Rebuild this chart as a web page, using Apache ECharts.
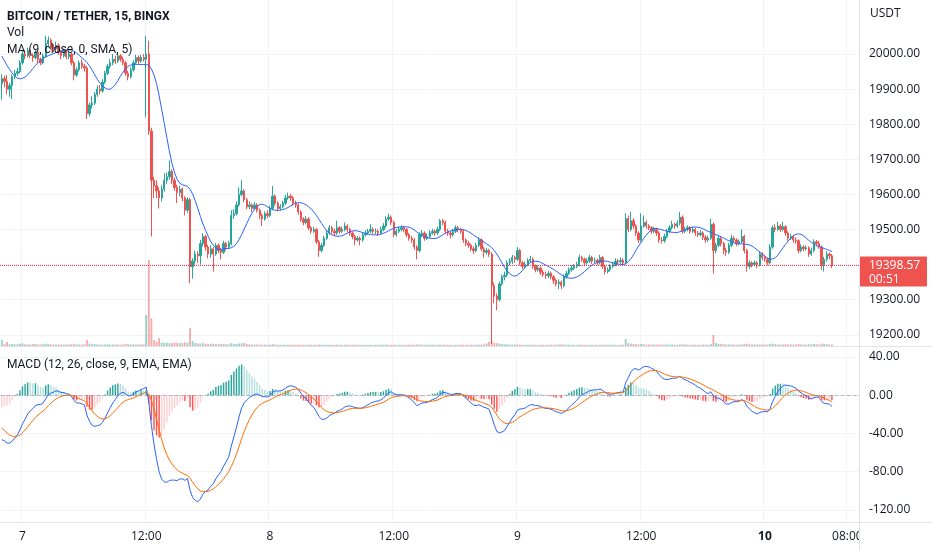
<!DOCTYPE html>
<html>
<head>
<meta charset="utf-8">
<script src="https://cdn.jsdelivr.net/npm/echarts@6/dist/echarts.min.js"></script>
<style>
html,body{margin:0;padding:0;background:#fff;}
#chart{width:932px;height:550px;}
</style>
</head>
<body>
<div id="chart"></div>
<script>
// ---- data (15-minute candles, BTC/USDT, BINGX) ----
const startTimeUTC = Date.UTC(2022, 9, 6, 22, 0);   // first slot on the time axis
const slotCount = 333;                                // slots shown on the time axis
const firstOpen = 19915;
// closes preceding the visible window (needed only to seed MA / MACD)
const warmupCloses = [20110,20116,20122,20118,20112,20120,20126,20121,20115,20110,20117,20124,20119,20113,20108,20115,20121,20117,20111,20106,
20113,20118,20111,20105,20100,20098,20095,20090,20075,20062,20050,20038,20025,20010,19995,19980,19965,19950,19932,19915];

const closes = [
19930,19922,19900,19910,19935,19945,19950,19975,20000,19995,20010,19995,19990,20005,19985,19975,19995,20030,20040,20020,
20015,20025,20005,19995,20008,19992,20000,19975,19940,19955,19975,19965,19960,19830,19855,19860,19885,19900,19895,19920,
19945,19965,19975,19985,19980,19995,19985,19975,19945,19935,19955,19975,19990,19980,19990,19985,20000,19780,19640,19625,
19610,19590,19615,19640,19650,19665,19640,19620,19605,19615,19590,19555,19585,19394,19410,19430,19425,19460,19480,19450,
19430,19445,19430,19455,19440,19435,19460,19450,19460,19540,19545,19570,19600,19610,19585,19565,19570,19560,19570,19555,
19540,19530,19545,19540,19560,19595,19575,19560,19565,19575,19590,19595,19590,19575,19570,19550,19530,19520,19530,19505,
19495,19500,19465,19440,19455,19475,19490,19505,19495,19490,19505,19495,19500,19510,19500,19490,19480,19470,19475,19470,
19485,19490,19495,19500,19495,19495,19490,19500,19510,19530,19535,19520,19485,19495,19500,19505,19500,19485,19475,19470,
19450,19440,19485,19490,19475,19480,19490,19495,19490,19500,19525,19520,19495,19490,19485,19495,19505,19500,19495,19470,
19460,19455,19445,19440,19455,19470,19445,19435,19440,19430,19340,19310,19300,19345,19365,19370,19405,19410,19420,19415,
19440,19405,19395,19400,19412,19415,19395,19385,19390,19378,19372,19368,19375,19365,19355,19345,19350,19340,19365,19375,
19385,19390,19395,19400,19420,19415,19405,19410,19420,19410,19412,19405,19420,19395,19380,19385,19395,19400,19410,19408,
19412,19405,19531,19500,19525,19510,19490,19470,19510,19520,19510,19505,19495,19500,19490,19470,19468,19480,19495,19505,
19515,19510,19518,19535,19495,19500,19505,19495,19500,19490,19485,19490,19478,19470,19475,19515,19440,19455,19475,19460,
19440,19435,19455,19475,19470,19460,19465,19480,19440,19395,19405,19400,19405,19400,19430,19420,19415,19405,19450,19505,
19500,19510,19500,19508,19490,19475,19480,19470,19468,19440,19450,19445,19448,19430,19440,19465,19460,19450,19400,19415,
19430,19425,19398.57];

const highs = [
19942,19938,19940,19918,19942,19955,19960,19982,20008,20012,20018,20015,20002,20012,20010,19990,20002,20052,20050,20045,
20028,20035,20030,20012,20015,20012,20008,20003,19980,19962,19982,19985,19972,19965,19862,19880,19892,19910,19912,19928,
19952,19972,19985,20000,19995,20003,20000,19992,19980,19952,19962,19982,19998,19996,19998,20000,20052,20038,19790,19650,
19640,19620,19625,19660,19662,19697,19672,19648,19628,19625,19620,19595,19592,19590,19418,19440,19438,19470,19490,19485,
19456,19455,19450,19462,19460,19448,19468,19465,19468,19555,19558,19580,19620,19641,19615,19590,19580,19575,19578,19575,
19560,19545,19552,19555,19568,19624,19600,19580,19572,19582,19598,19605,19602,19596,19582,19574,19555,19535,19538,19535,
19510,19508,19505,19470,19462,19482,19498,19512,19510,19502,19525,19510,19508,19520,19515,19505,19495,19485,19482,19480,
19492,19498,19502,19515,19506,19503,19500,19508,19518,19538,19545,19540,19525,19502,19508,19512,19510,19505,19490,19482,
19475,19455,19492,19498,19495,19488,19498,19502,19500,19508,19530,19530,19525,19502,19495,19502,19512,19510,19505,19500,
19475,19468,19460,19452,19462,19478,19475,19450,19448,19445,19435,19348,19318,19352,19372,19380,19412,19418,19428,19425,
19450,19445,19410,19408,19418,19425,19420,19400,19398,19395,19385,19380,19382,19380,19370,19360,19358,19355,19372,19382,
19392,19398,19402,19408,19428,19425,19420,19418,19428,19425,19420,19418,19428,19425,19400,19392,19402,19408,19418,19416,
19420,19418,19546,19540,19550,19532,19515,19495,19546,19540,19526,19515,19510,19508,19505,19495,19478,19488,19502,19512,
19525,19520,19526,19550,19540,19508,19512,19510,19508,19505,19496,19498,19495,19484,19482,19530,19520,19462,19482,19480,
19465,19448,19462,19485,19482,19475,19472,19500,19485,19445,19412,19410,19412,19410,19438,19435,19428,19420,19458,19512,
19515,19522,19515,19522,19512,19495,19488,19485,19478,19472,19458,19455,19455,19452,19448,19472,19470,19468,19455,19422,
19438,19435,19430];

const lows = [
19870,19905,19885,19878,19872,19928,19938,19945,19970,19985,19990,19988,19978,19985,19975,19968,19970,19990,20022,20012,
20005,20010,19998,19985,19990,19985,19985,19968,19925,19935,19950,19958,19950,19815,19822,19845,19855,19878,19885,19890,
19915,19940,19958,19968,19972,19975,19978,19968,19938,19925,19930,19950,19970,19972,19975,19978,19820,19770,19480,19590,
19590,19560,19580,19608,19630,19642,19630,19610,19575,19595,19580,19540,19548,19347,19360,19400,19405,19400,19452,19440,
19418,19420,19380,19425,19432,19415,19430,19440,19445,19455,19530,19540,19565,19595,19578,19558,19558,19550,19555,19548,
19530,19510,19525,19532,19535,19555,19568,19552,19555,19560,19570,19585,19582,19568,19562,19542,19522,19512,19515,19498,
19488,19490,19458,19422,19435,19450,19470,19485,19488,19482,19485,19488,19490,19495,19492,19482,19472,19455,19465,19455,
19465,19480,19485,19490,19488,19487,19482,19486,19495,19505,19525,19512,19478,19480,19490,19495,19492,19478,19468,19462,
19442,19415,19435,19478,19468,19470,19475,19485,19482,19485,19495,19512,19488,19482,19475,19480,19490,19492,19488,19462,
19452,19448,19438,19430,19435,19450,19438,19420,19428,19422,19174,19290,19270,19295,19340,19355,19365,19398,19402,19405,
19410,19398,19388,19390,19395,19405,19388,19378,19380,19370,19365,19360,19362,19358,19345,19338,19330,19330,19335,19360,
19370,19380,19385,19390,19395,19408,19398,19400,19405,19402,19404,19398,19400,19388,19372,19375,19380,19390,19395,19400,
19402,19398,19400,19492,19495,19502,19482,19462,19465,19505,19502,19498,19488,19490,19482,19462,19460,19462,19475,19490,
19500,19502,19505,19512,19488,19490,19495,19488,19490,19482,19478,19480,19470,19462,19465,19470,19374,19432,19450,19452,
19430,19425,19430,19450,19462,19452,19455,19460,19432,19380,19388,19392,19395,19390,19395,19412,19408,19398,19400,19445,
19492,19495,19492,19495,19482,19468,19470,19462,19460,19432,19435,19438,19440,19422,19425,19435,19452,19445,19385,19380,
19408,19415,19390];

const volumes = [
60,22,40,18,20,16,18,22,25,18,16,15,18,20,16,15,18,24,20,16,
15,14,16,15,14,16,15,18,22,16,15,14,16,60,24,18,20,16,15,14,
16,18,15,14,16,15,14,16,20,18,15,16,14,15,16,18,310,860,277,60,
40,80,35,30,32,28,30,34,30,28,32,36,34,177,50,30,26,24,28,22,
20,22,24,20,18,20,22,18,16,28,22,20,24,26,30,20,16,15,14,15,
14,13,14,12,13,18,14,12,13,12,13,12,12,13,12,14,13,12,12,14,
13,12,12,15,13,12,13,12,12,11,13,12,11,12,12,11,12,13,12,12,
11,12,12,13,11,12,11,12,12,14,12,12,14,12,11,12,11,12,12,12,
13,14,16,12,12,11,12,12,11,12,14,12,13,12,12,11,12,12,11,13,
12,12,13,12,12,13,14,16,25,40,60,30,28,24,20,18,16,14,15,14,
16,14,13,12,12,13,12,12,11,12,12,11,12,12,13,14,15,16,14,13,
12,12,12,11,14,12,12,11,12,12,11,12,13,14,13,12,12,11,12,11,
12,12,70,28,24,20,18,16,20,18,15,14,13,14,13,15,14,13,14,13,
14,12,13,16,18,14,13,12,12,13,12,13,14,13,12,22,110,30,22,20,
18,16,15,16,14,13,14,16,18,24,18,16,15,14,16,15,14,15,20,24,
18,16,15,16,18,16,15,14,15,20,16,15,14,18,16,20,18,16,24,20,
18,16,14];

const priceTicks = [19200,19300,19400,19500,19600,19700,19800,19900,20000];
const macdTicks = [40,0,-40,-80,-120];
const countdownText = '00:51';

// ---- derived ----
const UP = '#26a69a', DOWN = '#ef5350';
const N = closes.length;
const opens = closes.map((c, i) => i === 0 ? firstOpen : closes[i - 1]);
const candleData = closes.map((c, i) => {
  const o = opens[i];
  return [o, c, Math.min(lows[i], o, c), Math.max(highs[i], o, c)];
});
const volData = volumes.map((v, i) => ({
  value: v,
  itemStyle: { color: closes[i] >= opens[i] ? 'rgba(38,166,154,0.5)' : 'rgba(239,83,80,0.5)' }
}));

const cats = [];
for (let i = 0; i < slotCount; i++) {
  const d = new Date(startTimeUTC + i * 15 * 60000);
  cats.push(d.toISOString().slice(0, 16));
}
function isLabelSlot(index) {
  const s = cats[index];
  if (!s) return false;
  const hm = s.slice(11, 16);
  return hm === '00:00' || hm === '12:00' || (index === slotCount - 5);
}
function labelText(value, index) {
  const hm = value.slice(11, 16);
  if (hm === '00:00') {
    const d = new Date(value + ':00Z');
    const day = String(d.getUTCDate());
    return d.getUTCDay() === 1 ? '{b|' + day + '}' : day;
  }
  return hm;
}

const all = warmupCloses.concat(closes);
const W = warmupCloses.length;
function sma(src, n) {
  return src.map((v, i) => {
    if (i < n - 1) return null;
    let s = 0;
    for (let k = i - n + 1; k <= i; k++) { if (src[k] == null) return null; s += src[k]; }
    return s / n;
  });
}
function ema(src, n) {
  const a = 2 / (n + 1); let prev = null;
  return src.map(v => { prev = prev == null ? v : a * v + (1 - a) * prev; return prev; });
}
const ma = sma(sma(all, 9), 5).slice(W).map(v => v == null ? '-' : +v.toFixed(2));
const e12 = ema(all, 12), e26 = ema(all, 26);
const macdAll = e12.map((v, i) => v - e26[i]);
const sigAll = ema(macdAll, 9);
const histAll = macdAll.map((v, i) => v - sigAll[i]);
const macdLine = macdAll.slice(W).map(v => +v.toFixed(2));
const sigLine = sigAll.slice(W).map(v => +v.toFixed(2));
const histData = [];
for (let i = W; i < all.length; i++) {
  const h = histAll[i], p = histAll[i - 1];
  let col;
  if (h >= 0) col = h > p ? '#26a69a' : '#b2dfdb';
  else col = h < p ? '#ff5252' : '#ffcdd2';
  histData.push({ value: +h.toFixed(2), itemStyle: { color: col } });
}

// ---- chart ----
const chart = echarts.init(document.getElementById('chart'), null, { renderer: 'canvas' });
const FONT = '"Open Sans", "Noto Sans", sans-serif';
const LFONT = 'Roboto, "Open Sans", sans-serif';
const TXT = '#131722';
const GRIDC = '#f0f3fa';

const xAxisBase = {
  type: 'category', data: cats, boundaryGap: true,
  axisLine: { show: false }, axisTick: { show: false },
  splitLine: { show: true, interval: (i) => isLabelSlot(i), lineStyle: { color: GRIDC, width: 1 } }
};

const option = {
  animation: false,
  backgroundColor: '#ffffff',
  textStyle: { fontFamily: FONT },
  grid: [
    { left: 0.6, right: 73, top: 0, height: 346 },
    { left: 0.6, right: 73, top: 347, bottom: 28 }
  ],
  xAxis: [
    Object.assign({}, xAxisBase, { gridIndex: 0, axisLabel: { show: false } }),
    Object.assign({}, xAxisBase, {
      gridIndex: 1,
      axisLabel: {
        show: true, interval: (i) => isLabelSlot(i), formatter: labelText,
        color: TXT, fontSize: 12, fontFamily: FONT, margin: 9, hideOverlap: false,
        rich: { b: { fontWeight: 'bold', fontSize: 12, color: TXT, fontFamily: FONT } }
      }
    })
  ],
  yAxis: [
    {
      type: 'value', gridIndex: 0, position: 'right', min: 19168, max: 20154,
      axisLine: { show: false },
      axisTick: { show: false, customValues: priceTicks },
      axisLabel: { customValues: priceTicks, formatter: v => v.toFixed(2), color: TXT, fontSize: 12, fontFamily: FONT, margin: 10 },
      splitLine: { show: true, lineStyle: { color: GRIDC } }
    },
    {
      type: 'value', gridIndex: 0, min: 0, max: 3460, show: false, splitLine: { show: false }
    },
    {
      type: 'value', gridIndex: 1, position: 'right', min: -132.6, max: 50.5,
      axisLine: { show: false },
      axisTick: { show: false, customValues: macdTicks },
      axisLabel: { customValues: macdTicks, formatter: v => v.toFixed(2), color: TXT, fontSize: 12, fontFamily: FONT, margin: 10 },
      splitLine: { show: true, lineStyle: { color: GRIDC } }
    }
  ],
  series: [
    {
      name: 'Vol', type: 'bar', xAxisIndex: 0, yAxisIndex: 1, data: volData,
      barWidth: '70%', z: 1
    },
    {
      name: 'BTCUSDT', type: 'candlestick', xAxisIndex: 0, yAxisIndex: 0, data: candleData,
      barWidth: '70%', z: 3,
      itemStyle: { color: UP, color0: DOWN, borderColor: UP, borderColor0: DOWN, borderWidth: 1 }
    },
    {
      name: 'MA', type: 'line', xAxisIndex: 0, yAxisIndex: 0, data: ma,
      symbol: 'none', lineStyle: { color: '#2962ff', width: 1 }, z: 4
    },
    {
      name: 'Histogram', type: 'bar', xAxisIndex: 1, yAxisIndex: 2, data: histData,
      barWidth: '55%',
      markLine: {
        silent: true, symbol: ['none', 'none'], label: { show: false },
        lineStyle: { color: 'rgba(120,123,134,0.5)', type: 'dashed', width: 1 },
        data: [{ yAxis: 0 }]
      }
    },
    {
      name: 'MACD', type: 'line', xAxisIndex: 1, yAxisIndex: 2, data: macdLine,
      symbol: 'none', lineStyle: { color: '#2962ff', width: 1 }, z: 4
    },
    {
      name: 'Signal', type: 'line', xAxisIndex: 1, yAxisIndex: 2, data: sigLine,
      symbol: 'none', lineStyle: { color: '#ff6d00', width: 1 }, z: 4
    }
  ]
};
chart.setOption(option);

const lastY = chart.convertToPixel({ yAxisIndex: 0 }, closes[N - 1]);
const lineY = Math.round(lastY) + 0.5;
const axisX = 859.5;
chart.setOption({
  graphic: [
    { type: 'line', z: 5, silent: true, shape: { x1: 0, y1: lineY, x2: 859, y2: lineY }, style: { stroke: 'rgb(242,54,69)', lineWidth: 1, lineDash: [1, 1] } },
    { type: 'text', z: 50, x: 7, y: 16.5, style: { text: 'BITCOIN / TETHER, 15, BINGX', font: 'bold 12px ' + LFONT, fill: TXT, verticalAlign: 'middle' } },
    { type: 'text', z: 50, x: 7, y: 33, style: { text: 'Vol', font: '12px ' + LFONT, fill: TXT, verticalAlign: 'middle' } },
    { type: 'text', z: 50, x: 7, y: 50, style: { text: 'MA (9, close, 0, SMA, 5)', font: '12px ' + LFONT, fill: TXT, verticalAlign: 'middle' } },
    { type: 'text', z: 50, x: 7, y: 365, style: { text: 'MACD (12, 26, close, 9, EMA, EMA)', font: '12px ' + LFONT, fill: TXT, verticalAlign: 'middle' } },
    { type: 'text', z: 50, x: 870, y: 14, style: { text: 'USDT', font: '12px ' + FONT, fill: TXT, verticalAlign: 'middle' } },
    { type: 'rect', z: 60, shape: { x: 860, y: 523, width: 72, height: 27 }, style: { fill: '#ffffff' } },
    { type: 'line', z: 61, shape: { x1: 0, y1: 346.5, x2: 932, y2: 346.5 }, style: { stroke: '#e0e3eb', lineWidth: 1 } },
    { type: 'line', z: 61, shape: { x1: 0, y1: 522.5, x2: 932, y2: 522.5 }, style: { stroke: '#e0e3eb', lineWidth: 1 } },
    { type: 'line', z: 61, shape: { x1: axisX, y1: 0, x2: axisX, y2: 550 }, style: { stroke: '#e0e3eb', lineWidth: 1 } },
    { type: 'rect', z: 62, shape: { x: 860, y: lastY - 8.5, width: 67, height: 30, r: 1 }, style: { fill: '#ef5350' } },
    { type: 'text', z: 63, x: 869, y: lastY, style: { text: closes[N - 1].toFixed(2), font: '12px ' + FONT, fill: '#ffffff', verticalAlign: 'middle' } },
    { type: 'text', z: 63, x: 869, y: lastY + 14, style: { text: countdownText, font: '12px ' + FONT, fill: '#ffffff', verticalAlign: 'middle' } }
  ]
});
</script>
</body>
</html>
